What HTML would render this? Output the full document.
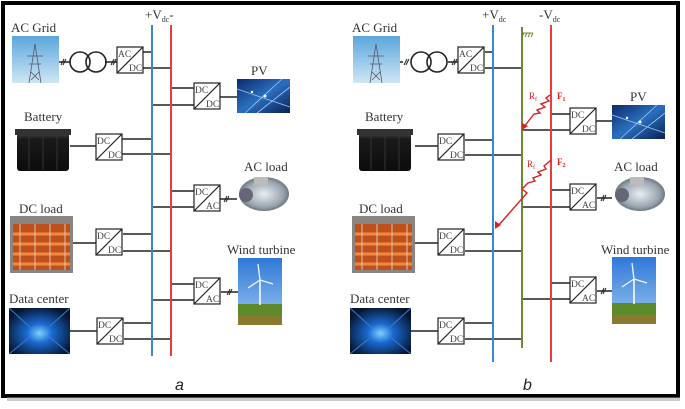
<!DOCTYPE html>
<html><head><meta charset="utf-8"><style>
html,body{margin:0;padding:0;background:#fff;width:685px;height:409px;overflow:hidden}
svg{display:block}
text{font-family:"Liberation Serif",serif;fill:#333}
.cv text{font-size:9.5px;fill:#444}
</style></head><body>
<svg width="685" height="409" viewBox="0 0 685 409">
<defs>
<linearGradient id="grid" x1="0" y1="0" x2="0" y2="1"><stop offset="0" stop-color="#5aa6dc"/><stop offset="1" stop-color="#cfe6f5"/></linearGradient>
<linearGradient id="pv" x1="0" y1="0" x2="1" y2="1"><stop offset="0" stop-color="#0d2a6a"/><stop offset="0.5" stop-color="#2a6fc0"/><stop offset="1" stop-color="#0a1e50"/></linearGradient>
<linearGradient id="sky" x1="0" y1="0" x2="0" y2="1"><stop offset="0" stop-color="#2f78d8"/><stop offset="1" stop-color="#9cc6f0"/></linearGradient>
<radialGradient id="dc" cx="0.5" cy="0.55" r="0.6"><stop offset="0" stop-color="#7fd0ff"/><stop offset="0.35" stop-color="#1a6ad0"/><stop offset="1" stop-color="#06142e"/></radialGradient>
<linearGradient id="bat" x1="0" y1="0" x2="0" y2="1"><stop offset="0" stop-color="#555"/><stop offset="0.2" stop-color="#1a1a1a"/><stop offset="1" stop-color="#0c0c0c"/></linearGradient>
<radialGradient id="mot" cx="0.5" cy="0.5" r="0.55"><stop offset="0" stop-color="#e8edf2"/><stop offset="0.7" stop-color="#9aa5b0"/><stop offset="1" stop-color="#5a6570"/></radialGradient>
<g id="acgrid"><rect width="47" height="47" fill="url(#grid)"/><path d="M23 8 L17 47 M23 8 L29 47 M15 20 H31 M17 28 H29 M19 36 L27 44 M27 36 L19 44" stroke="#556" stroke-width="0.8" fill="none"/></g>
<g id="pvimg"><rect width="53" height="34" fill="url(#pv)"/><path d="M0 10 L53 28 M8 34 L45 0 M20 34 L53 8" stroke="#9cc8f0" stroke-width="0.8"/><circle cx="28" cy="17" r="1.5" fill="#fff"/><circle cx="15" cy="13" r="1.2" fill="#fff"/></g>
<g id="batimg"><rect x="2" y="5" width="52" height="40" rx="3" fill="url(#bat)"/><rect x="0" y="3" width="56" height="6" fill="#333"/><path d="M14 10 V44 M28 10 V44 M42 10 V44" stroke="#333"/></g>
<g id="dcload"><rect width="63" height="57" fill="#8a8580"/><rect x="3" y="8" width="57" height="46" fill="#c0501a"/><path d="M3 18 H60 M3 28 H60 M3 38 H60 M3 48 H60" stroke="#f08a40" stroke-width="3"/><path d="M10 8 V54 M25 8 V54 M40 8 V54 M55 8 V54" stroke="#ddd" stroke-width="0.8"/></g>
<g id="dcent"><rect width="61" height="46" fill="url(#dc)"/><path d="M0 0 L22 20 M61 0 L39 20 M0 46 L22 28 M61 46 L39 28" stroke="#3a7ad0" stroke-width="1"/></g>
<g id="motor"><ellipse cx="30" cy="19" rx="25" ry="17" fill="url(#mot)"/><rect x="20" y="2" width="14" height="8" fill="#bbb"/><circle cx="12" cy="20" r="7" fill="#667" /></g>
<g id="wind"><rect width="44" height="67" fill="url(#sky)"/><rect y="46" width="44" height="21" fill="#5f8a2c"/><rect y="58" width="44" height="9" fill="#8a7a30"/><path d="M22 22 V47" stroke="#fff" stroke-width="1.5"/><path d="M22 22 L20 6 M22 22 L35 26 M22 22 L10 30" stroke="#f4f4f4" stroke-width="1.3"/></g>
<g id="xf" fill="none" stroke="#222" stroke-width="1.6"><circle cx="0" cy="0" r="10"/><circle cx="16" cy="0" r="10"/></g>
<g id="box" fill="#fff" stroke="#222" stroke-width="1.2"><rect width="26" height="26"/><line x1="0" y1="26" x2="26" y2="0"/></g>
</defs>

<rect x="3" y="3" width="675" height="393" fill="#fff" stroke="#000" stroke-width="4"/>
<rect x="7" y="397" width="673" height="4" fill="#999" opacity="0.5"/>

<g stroke="#222" stroke-width="1.4" fill="none">
<path d="M58 62 H70 M105 62 H117 M143 52 H152 M143 68 H171"/>
<path d="M171 88 H194 M152 105 H194 M220 97 H237"/>
<path d="M70 146 H96 M122 139 H152 M122 154 H171"/>
<path d="M171 191 H194 M152 207 H194 M220 199 H237"/>
<path d="M73 243 H96 M123 234 H152 M123 251 H171"/>
<path d="M171 284 H194 M152 300 H194 M221 292 H238"/>
<path d="M70 331 H97 M124 323 H152 M124 339 H171"/>
<path d="M400 62 H403 M448 62 H458 M485 52 H493 M485 68 H522"/>
<path d="M551 114 H570 M522 130 H570 M596 121 H612"/>
<path d="M415 146 H438 M465 140 H493 M465 155 H522"/>
<path d="M551 190 H570 M522 207 H570 M597 198 H612"/>
<path d="M415 243 H438 M465 234 H493 M465 251 H522"/>
<path d="M551 283 H570 M522 299 H570 M597 291 H612"/>
<path d="M411 331 H438 M465 323 H493 M465 339 H522"/>
<path d="M61 65 L64 59 M63 65 L66 59 M111 65 L114 59 M113 65 L116 59 M224 202 L227 196 M226 202 L229 196 M227 295 L230 289 M229 295 L232 289 M404 65 L407 59 M406 65 L409 59 M452 65 L455 59 M454 65 L457 59 M601 201 L604 195 M603 201 L606 195 M601 294 L604 288 M603 294 L606 288" stroke-width="1"/>
</g>

<line x1="152" y1="25" x2="152" y2="356" stroke="#3a86d8" stroke-width="2"/>
<line x1="171" y1="25" x2="171" y2="356" stroke="#ee3a3a" stroke-width="2"/>
<line x1="493" y1="25" x2="493" y2="362" stroke="#3a86d8" stroke-width="2"/>
<line x1="551" y1="25" x2="551" y2="362" stroke="#ee3a3a" stroke-width="2"/>
<line x1="522" y1="27" x2="522" y2="348" stroke="#6a8a3a" stroke-width="2"/>
<path d="M522 33 H533 M524 33 L522 37 M527 33 L525 37 M530 33 L528 37 M533 33 L531 37" stroke="#6a8a3a" stroke-width="1"/>

<g stroke="#d82020" stroke-width="1.4" fill="none">
<path d="M550 95 L546 98 L549 101 L541 104 L545 107 L537 110 L540 113 L534 114 L524 127"/>
<path d="M551 160 L544 166 L546 169 L538 172 L541 175 L533 178 L535 181 L528 183 L522 189 L527 193 L498 226"/>
</g>
<path d="M522 130 L522 123 L528 126 Z M495 229 L495 221 L501 225 Z" fill="#d82020"/>
<text x="529" y="99" font-size="9" style="fill:#d82020">R<tspan font-size="6" dy="2">f</tspan></text>
<text x="527" y="167" font-size="9" style="fill:#d82020">R<tspan font-size="6" dy="2">f</tspan></text>
<text x="557" y="99" font-size="9" font-weight="bold" style="fill:#d82020">F<tspan font-size="6" dy="2">1</tspan></text>
<text x="557" y="165" font-size="9" font-weight="bold" style="fill:#d82020">F<tspan font-size="6" dy="2">2</tspan></text>

<use href="#acgrid" x="12" y="36"/><use href="#acgrid" x="353" y="36"/>
<use href="#xf" x="80" y="62"/><use href="#xf" x="421" y="62"/>
<use href="#pvimg" x="237" y="79"/><use href="#pvimg" x="612" y="105"/>
<use href="#batimg" x="15" y="126"/><use href="#batimg" x="357" y="126"/>
<use href="#motor" x="234" y="175"/><use href="#motor" x="610" y="175"/>
<use href="#dcload" x="10" y="216"/><use href="#dcload" x="352" y="216"/>
<use href="#wind" x="238" y="258"/><use href="#wind" x="612" y="257"/>
<use href="#dcent" x="9" y="308"/><use href="#dcent" x="350" y="308"/>

<g class="cv">
<use href="#box" x="117" y="47"/><text x="118" y="57">AC</text><text x="129" y="71">DC</text>
<use href="#box" x="194" y="83"/><text x="195" y="93">DC</text><text x="206" y="107">DC</text>
<use href="#box" x="96" y="134"/><text x="97" y="144">DC</text><text x="108" y="158">DC</text>
<use href="#box" x="194" y="185"/><text x="195" y="195">DC</text><text x="206" y="209">AC</text>
<use href="#box" x="96" y="229"/><text x="97" y="239">DC</text><text x="108" y="253">DC</text>
<use href="#box" x="194" y="278"/><text x="195" y="288">DC</text><text x="206" y="302">AC</text>
<use href="#box" x="97" y="318"/><text x="98" y="328">DC</text><text x="109" y="342">DC</text>
<use href="#box" x="458" y="47"/><text x="459" y="57">AC</text><text x="470" y="71">DC</text>
<use href="#box" x="570" y="108"/><text x="571" y="118">DC</text><text x="582" y="132">DC</text>
<use href="#box" x="438" y="134"/><text x="439" y="144">DC</text><text x="450" y="158">DC</text>
<use href="#box" x="570" y="184"/><text x="571" y="194">DC</text><text x="582" y="208">AC</text>
<use href="#box" x="438" y="229"/><text x="439" y="239">DC</text><text x="450" y="253">DC</text>
<use href="#box" x="570" y="277"/><text x="571" y="287">DC</text><text x="582" y="301">AC</text>
<use href="#box" x="438" y="318"/><text x="439" y="328">DC</text><text x="450" y="342">DC</text>
</g>

<g font-size="13" style="fill:#222">
<text x="11" y="32">AC Grid</text><text x="352" y="32">AC Grid</text>
<text x="251" y="75">PV</text><text x="630" y="101">PV</text>
<text x="24" y="121">Battery</text><text x="365" y="121">Battery</text>
<text x="244" y="171">AC load</text><text x="614" y="171">AC load</text>
<text x="19" y="213">DC load</text><text x="359" y="213">DC load</text>
<text x="227" y="254">Wind turbine</text><text x="601" y="254">Wind turbine</text>
<text x="9" y="303">Data center</text><text x="350" y="303">Data center</text>
<text x="145" y="19">+V<tspan font-size="8" dy="3">dc</tspan><tspan dy="-3">-</tspan></text>
<text x="482" y="19">+V<tspan font-size="8" dy="3">dc</tspan></text>
<text x="539" y="19">-V<tspan font-size="8" dy="3">dc</tspan></text>
</g>
<text x="175" y="390" font-size="16" font-style="italic" style="font-family:'Liberation Sans',sans-serif;fill:#222">a</text>
<text x="523" y="390" font-size="16" font-style="italic" style="font-family:'Liberation Sans',sans-serif;fill:#222">b</text>
</svg>
</body></html>
